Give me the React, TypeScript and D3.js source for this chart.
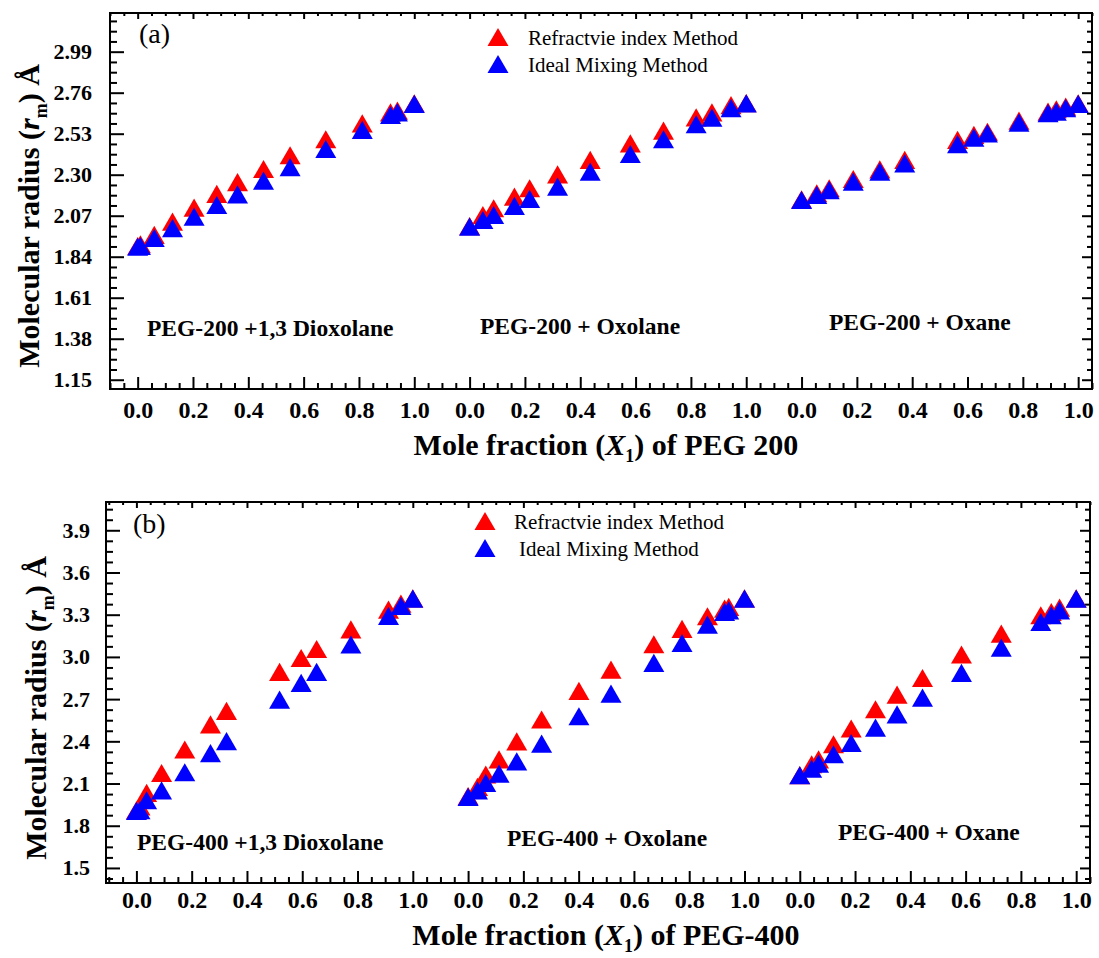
import React, { useEffect, useRef } from 'react';
import * as d3 from 'd3';

const W = 1099,
      H = 958;
const FONT = '"Liberation Serif", "Times New Roman", Times, serif';

// the three mixtures share one long x axis, each labelled 0.0 .. 1.0
const xTickLabels = ['0.0', '0.2', '0.4', '0.6', '0.8', '1.0'];
const segmentOffsets = [0, 1.2, 2.4];

const yTicksA = ['1.15', '1.38', '1.61', '1.84', '2.07', '2.30', '2.53', '2.76', '2.99'];
const yTicksB = ['1.5', '1.8', '2.1', '2.4', '2.7', '3.0', '3.3', '3.6', '3.9'];

const seriesNames = ['Refractvie index Method', 'Ideal Mixing Method'];
const seriesColors = ['#ff0000', '#0000ff'];

// (a) PEG-200 + 1,3 Dioxolane
const xA1 = [0, 0.01, 0.06, 0.126, 0.204, 0.286, 0.361, 0.455, 0.551, 0.68, 0.812, 0.914, 0.939, 1.0];
const refA1 = [1.9, 1.91, 1.962, 2.037, 2.115, 2.192, 2.258, 2.332, 2.409, 2.499, 2.588, 2.65, 2.659, 2.7];
const idealA1 = [1.896, 1.9, 1.945, 2.0, 2.065, 2.13, 2.19, 2.267, 2.342, 2.444, 2.551, 2.635, 2.65, 2.697];
// (a) PEG-200 + Oxolane
const xA2 = [0, 0.048, 0.087, 0.162, 0.217, 0.318, 0.436, 0.581, 0.701, 0.819, 0.876, 0.945, 1.0];
const refA2 = [2.012, 2.074, 2.112, 2.177, 2.224, 2.302, 2.383, 2.476, 2.547, 2.622, 2.65, 2.69, 2.702];
const idealA2 = [2.009, 2.046, 2.074, 2.125, 2.164, 2.233, 2.317, 2.416, 2.499, 2.583, 2.62, 2.673, 2.7];
// (a) PEG-200 + Oxane
const xA3 = [0, 0.055, 0.1, 0.187, 0.283, 0.373, 0.564, 0.623, 0.672, 0.786, 0.891, 0.921, 0.955, 1.0];
const refA3 = [2.162, 2.196, 2.224, 2.276, 2.33, 2.383, 2.495, 2.523, 2.541, 2.603, 2.654, 2.667, 2.682, 2.7];
const idealA3 = [2.158, 2.186, 2.214, 2.261, 2.317, 2.364, 2.471, 2.508, 2.532, 2.592, 2.645, 2.654, 2.673, 2.697];

// (b) PEG-400 + 1,3 Dioxolane
const xB1 = [0, 0.013, 0.037, 0.091, 0.175, 0.268, 0.326, 0.518, 0.596, 0.652, 0.776, 0.912, 0.957, 1.0];
const refB1 = [1.91, 1.938, 2.033, 2.175, 2.342, 2.521, 2.616, 2.893, 2.992, 3.056, 3.196, 3.336, 3.379, 3.416];
const idealB1 = [1.905, 1.91, 1.981, 2.052, 2.18, 2.316, 2.402, 2.697, 2.815, 2.893, 3.088, 3.291, 3.362, 3.414];
// (b) PEG-400 + Oxolane
const xB2 = [0, 0.034, 0.064, 0.112, 0.176, 0.266, 0.401, 0.517, 0.672, 0.774, 0.866, 0.928, 0.943, 1.0];
const refB2 = [2.01, 2.076, 2.164, 2.272, 2.4, 2.555, 2.758, 2.91, 3.09, 3.199, 3.289, 3.343, 3.355, 3.416];
const idealB2 = [2.005, 2.052, 2.104, 2.171, 2.258, 2.384, 2.578, 2.739, 2.957, 3.099, 3.23, 3.319, 3.331, 3.414];
// (b) PEG-400 + Oxane
const xB3 = [0, 0.043, 0.068, 0.122, 0.186, 0.274, 0.352, 0.444, 0.585, 0.729, 0.872, 0.91, 0.94, 1.0];
const refB3 = [2.16, 2.237, 2.272, 2.379, 2.491, 2.628, 2.732, 2.85, 3.017, 3.166, 3.296, 3.319, 3.35, 3.416];
const idealB3 = [2.159, 2.206, 2.242, 2.308, 2.388, 2.498, 2.592, 2.711, 2.886, 3.066, 3.248, 3.296, 3.331, 3.414];

const namesA = ['PEG-200 +1,3 Dioxolane', 'PEG-200 + Oxolane', 'PEG-200 + Oxane'];
const namesB = ['PEG-400 +1,3 Dioxolane', 'PEG-400 + Oxolane', 'PEG-400 + Oxane'];

const panelA = {
  left: 110, right: 1092, top: 13, bottom: 389,
  xDomain: [-0.1, 3.45], yDomain: [1.098, 3.207],
  yTicks: yTicksA, yMinorStep: 0.0575, yLabelPad: 18, xLabelY: 29,
  groups: [[xA1, refA1, idealA1], [xA2, refA2, idealA2], [xA3, refA3, idealA3]],
  names: namesA,
  namePos: [[147, 336], [480, 334], [829, 330]],
  tag: '(a)', tagPos: [139, 43],
  legend: [498, 37, 528, 27],
  xTitle: 'PEG 200', xTitlePos: [606, 455],
  yTitlePos: [39, 216],
};

const panelB = {
  left: 106, right: 1090, top: 502, bottom: 883,
  xDomain: [-0.11, 3.45], yDomain: [1.393, 4.101],
  yTicks: yTicksB, yMinorStep: 0.075, yLabelPad: 16, xLabelY: 25,
  groups: [[xB1, refB1, idealB1], [xB2, refB2, idealB2], [xB3, refB3, idealB3]],
  names: namesB,
  namePos: [[137, 850], [507, 846], [838, 840]],
  tag: '(b)', tagPos: [133, 533],
  legend: [485, 521, 514, 27],
  xTitle: 'PEG-400', xTitlePos: [606, 945],
  yTitlePos: [46, 708],
};

const triSize = 191;
const triOffset = Math.sqrt(triSize / (Math.sqrt(3) * 3)) / 2; // centre the box, not the centroid

const Panel = ({ cfg }) => {
  const ref = useRef(null);

  useEffect(() => {
    const g = d3.select(ref.current);
    g.selectAll('*').remove();

    const x = d3.scaleLinear().domain(cfg.xDomain).range([cfg.left, cfg.right]);
    const y = d3.scaleLinear().domain(cfg.yDomain).range([cfg.bottom, cfg.top]);

    const xMajor = segmentOffsets.flatMap(o => xTickLabels.map(l => +(o + +l).toFixed(3)));
    const xMajorLabels = segmentOffsets.flatMap(() => xTickLabels);
    const xMinor = d3.range(Math.ceil(cfg.xDomain[0] / 0.05), Math.floor(cfg.xDomain[1] / 0.05) + 1)
      .map(i => +(i * 0.05).toFixed(3))
      .filter(v => !xMajor.some(m => Math.abs(m - v) < 1e-6));

    const y0 = +cfg.yTicks[0];
    const yMajor = cfg.yTicks.map(Number);
    const yMinor = d3.range(-4, 60)
      .map(i => +(y0 + i * cfg.yMinorStep).toFixed(4))
      .filter(v => v > cfg.yDomain[0] && v < cfg.yDomain[1])
      .filter(v => !yMajor.some(m => Math.abs(m - v) < 1e-6));

    const clean = sel => sel.select('.domain').remove();

    // bottom
    g.append('g').attr('transform', `translate(0,${cfg.bottom})`)
      .call(d3.axisBottom(x).tickValues(xMajor).tickSize(-12).tickFormat((d, i) => xMajorLabels[i]))
      .call(clean)
      .call(a => a.selectAll('text').attr('y', cfg.xLabelY).attr('dy', 0).attr('font-size', 24));
    g.append('g').attr('transform', `translate(0,${cfg.bottom})`)
      .call(d3.axisBottom(x).tickValues(xMinor).tickSize(-6).tickFormat(() => ''))
      .call(clean);
    // top
    g.append('g').attr('transform', `translate(0,${cfg.top})`)
      .call(d3.axisTop(x).tickValues(xMajor).tickSize(-6).tickFormat(() => ''))
      .call(clean);
    g.append('g').attr('transform', `translate(0,${cfg.top})`)
      .call(d3.axisTop(x).tickValues(xMinor).tickSize(-3).tickFormat(() => ''))
      .call(clean);
    // left
    g.append('g').attr('transform', `translate(${cfg.left},0)`)
      .call(d3.axisLeft(y).tickValues(yMajor).tickSize(-14).tickPadding(cfg.yLabelPad).tickFormat((d, i) => cfg.yTicks[i]))
      .call(clean)
      .call(a => a.selectAll('text').attr('font-size', 22));
    g.append('g').attr('transform', `translate(${cfg.left},0)`)
      .call(d3.axisLeft(y).tickValues(yMinor).tickSize(-7).tickFormat(() => ''))
      .call(clean);
    // right
    g.append('g').attr('transform', `translate(${cfg.right},0)`)
      .call(d3.axisRight(y).tickValues(yMajor).tickSize(-10).tickFormat(() => ''))
      .call(clean);
    g.append('g').attr('transform', `translate(${cfg.right},0)`)
      .call(d3.axisRight(y).tickValues(yMinor).tickSize(-5).tickFormat(() => ''))
      .call(clean);

    g.selectAll('.tick line').attr('stroke', '#000').attr('stroke-width', 2);
    g.selectAll('.tick text')
      .attr('font-family', FONT).attr('font-weight', 'bold').attr('fill', '#000');

    g.append('rect')
      .attr('x', cfg.left).attr('y', cfg.top)
      .attr('width', cfg.right - cfg.left).attr('height', cfg.bottom - cfg.top)
      .attr('fill', 'none').attr('stroke', '#000').attr('stroke-width', 2);

    const tri = d3.symbol(d3.symbolTriangle, triSize)();

    cfg.groups.forEach(([xs, ref, ideal], gi) => {
      const off = segmentOffsets[gi];
      [ref, ideal].forEach((vals, si) => {
        g.append('g').selectAll('path')
          .data(xs.map((xv, i) => [xv + off, vals[i]]))
          .enter().append('path')
          .attr('d', tri)
          .attr('transform', d => `translate(${x(d[0])},${y(d[1]) + triOffset})`)
          .attr('fill', seriesColors[si]);
      });
    });

    // legend
    const [lx, ly, tx, gap] = cfg.legend;
    seriesNames.forEach((name, i) => {
      g.append('path').attr('d', tri)
        .attr('transform', `translate(${lx},${ly + i * gap + triOffset})`)
        .attr('fill', seriesColors[i]);
      g.append('text').text(name)
        .attr('x', tx + (i === 1 && cfg.tag === '(b)' ? 5 : 0)).attr('y', ly + i * gap + 8)
        .attr('font-family', FONT).attr('font-size', 21);
    });
  }, [cfg]);

  return (
    <g>
      <g ref={ref} />
      <text x={cfg.tagPos[0]} y={cfg.tagPos[1]} fontFamily={FONT} fontSize={28}>{cfg.tag}</text>
      {cfg.names.map((n, i) => (
        <text key={n} x={cfg.namePos[i][0]} y={cfg.namePos[i][1]} fontFamily={FONT} fontSize={23.5} fontWeight="bold">{n}</text>
      ))}
      <text x={cfg.xTitlePos[0]} y={cfg.xTitlePos[1]} textAnchor="middle" fontFamily={FONT} fontSize={30} fontWeight="bold">
        Mole fraction (<tspan fontStyle="italic">X</tspan><tspan fontSize={18} dy={7}>1</tspan><tspan dy={-7}>) of {cfg.xTitle}</tspan>
      </text>
      <text transform={`translate(${cfg.yTitlePos[0]},${cfg.yTitlePos[1]}) rotate(-90)`} textAnchor="middle" fontFamily={FONT} fontSize={30} fontWeight="bold">
        Molecular radius (<tspan fontStyle="italic">r</tspan><tspan fontSize={18} dy={8}>m</tspan><tspan dy={-8}>) Å</tspan>
      </text>
    </g>
  );
};

const App = () => (
  <svg width={W} height={H} viewBox={`0 0 ${W} ${H}`}
       style={{ position: 'absolute', left: 0, top: 0, background: '#fff' }}>
    <rect width={W} height={H} fill="#fff" />
    <Panel cfg={panelA} />
    <Panel cfg={panelB} />
  </svg>
);

export default App;
